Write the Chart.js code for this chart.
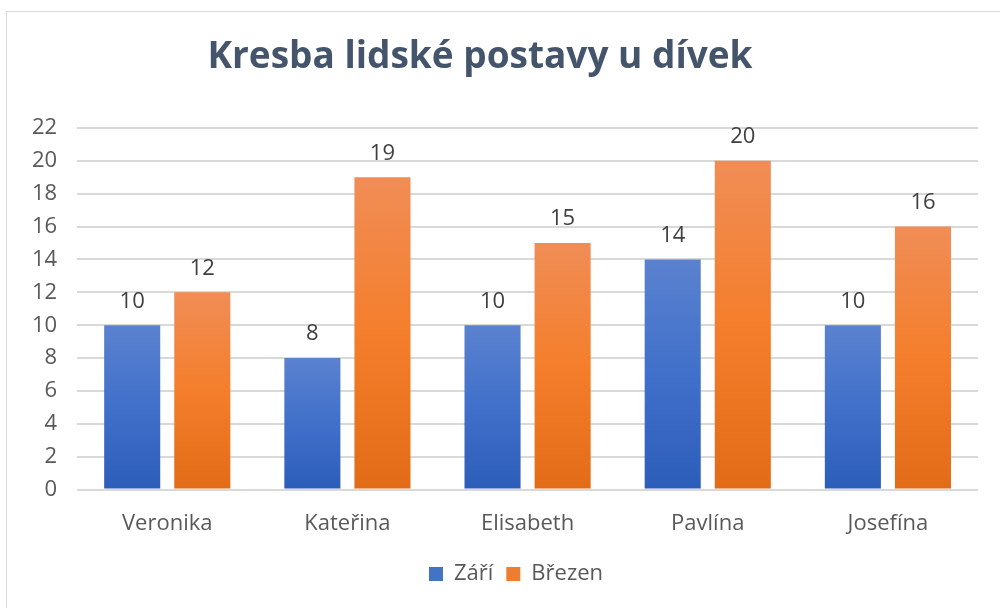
<!DOCTYPE html>
<html>
<head>
<meta charset="utf-8">
<script src="https://cdn.jsdelivr.net/npm/chart.js@4"></script>
<style>
  body { margin: 0; background: #fff; }
  #frame { position: absolute; left: 6px; top: 11px; width: 1100px; height: 700px; border: 1px solid #d9d9d9; }
  #wrap { position: absolute; left: 0; top: 0; width: 1000px; height: 608px; }
</style>
</head>
<body>
<div id="frame"></div>
<div id="wrap"><canvas id="myChart"></canvas></div>
<script>
var categories = ['Veronika', 'Kateřina', 'Elisabeth', 'Pavlína', 'Josefína'];
var zari = [10, 8, 10, 14, 10];
var brezen = [12, 19, 15, 20, 16];
var yTicks = { min: 0, max: 22, step: 2 };
var chartTitle = 'Kresba lidské postavy u dívek';

function barGradient(top, bottom) {
    return function (context) {
        var chart = context.chart;
        var y = chart.scales && chart.scales.y;
        if (!chart.chartArea || !y || context.raw === undefined) return top;
        var y0 = y.getPixelForValue(context.raw);
        var y1 = y.getPixelForValue(0);
        var g = chart.ctx.createLinearGradient(0, y0, 0, y1);
        g.addColorStop(0, top);
        g.addColorStop(0.5, bottom[0]);
        g.addColorStop(1, bottom[1]);
        return g;
    };
}

// value labels above bars + title (title sits a bit left of centre in the original)
var extras = {
    id: 'extras',
    afterLayout: function (chart) {
        // legend in the original is a little right of centre
        chart.legend.left += 21;
        chart.legend.right += 21;
    },
    afterDatasetsDraw: function (chart) {
        var ctx = chart.ctx;
        ctx.save();
        ctx.font = '22px "Open Sans"';
        ctx.fillStyle = '#404040';
        ctx.textAlign = 'center';
        ctx.textBaseline = 'bottom';
        chart.data.datasets.forEach(function (ds, i) {
            chart.getDatasetMeta(i).data.forEach(function (bar, j) {
                ctx.fillText(ds.data[j], bar.x, bar.y - 13);
            });
        });
        ctx.font = 'bold 37px "Open Sans"';
        ctx.fillStyle = '#44546A';
        ctx.textBaseline = 'middle';
        ctx.fillText(chartTitle, 480, 57);
        ctx.restore();
    }
};

var ctx = document.getElementById('myChart').getContext('2d');
var myChart = new Chart(ctx, {
    type: 'bar',
    data: {
        labels: categories,
        datasets: [{
            label: 'Září',
            data: zari,
            backgroundColor: barGradient('#5B82CF', ['#4070CA', '#2C5DB8']),
            borderWidth: 0
        }, {
            label: 'Březen',
            data: brezen,
            backgroundColor: barGradient('#F08D56', ['#F47E2B', '#E26B17']),
            borderWidth: 0
        }]
    },
    options: {
        responsive: true,
        maintainAspectRatio: false,
        animation: false,
        layout: { padding: { left: 12, right: 22, top: 128, bottom: 13 } },
        datasets: {
            bar: { categoryPercentage: 0.778, barPercentage: 0.8 }
        },
        plugins: {
            legend: {
                position: 'bottom',
                labels: {
                    color: '#595959',
                    font: { family: '"Open Sans"', size: 22 },
                    boxWidth: 14,
                    boxHeight: 14,
                    padding: 13,
                    generateLabels: function (chart) {
                        var cols = ['#4472C4', '#ED7D31'];
                        return chart.data.datasets.map(function (ds, i) {
                            return { text: ds.label, fillStyle: cols[i], strokeStyle: cols[i], lineWidth: 0, datasetIndex: i, fontColor: '#595959' };
                        });
                    }
                }
            },
            tooltip: { enabled: false }
        },
        scales: {
            x: {
                grid: { display: false },
                border: { display: false },
                ticks: { color: '#595959', font: { family: '"Open Sans"', size: 22 }, padding: 13 }
            },
            y: {
                min: yTicks.min,
                max: yTicks.max,
                border: { display: false },
                grid: { color: '#d9d9d9', lineWidth: 2, drawTicks: false },
                ticks: { stepSize: yTicks.step, color: '#595959', font: { family: '"Open Sans"', size: 22 }, padding: 20 }
            }
        }
    },
    plugins: [extras]
});
</script>
</body>
</html>
